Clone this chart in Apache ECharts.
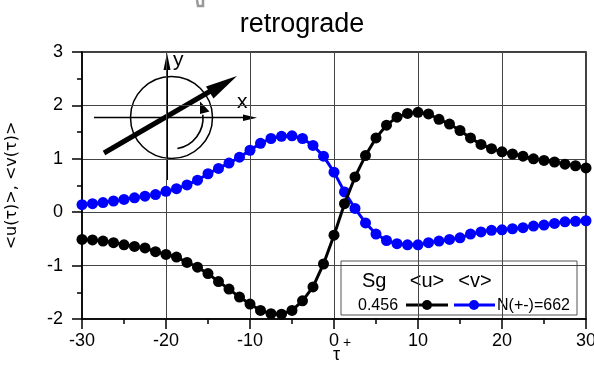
<!DOCTYPE html>
<html>
<head>
<meta charset="utf-8">
<script src="https://cdn.jsdelivr.net/npm/echarts@6/dist/echarts.min.js"></script>
<style>
  html, body { margin: 0; padding: 0; background: #fff; }
  #chart { width: 594px; height: 370px; }
</style>
</head>
<body>
<div id="chart"></div>
<script>
var FONT = "'Liberation Sans', Arial, sans-serif";

// lag tau
var tau = [-30, -28.75, -27.5, -26.25, -25, -23.75, -22.5, -21.25, -20, -18.75,
  -17.5, -16.25, -15, -13.75, -12.5, -11.25, -10, -8.75, -7.5, -6.25,
  -5, -3.75, -2.5, -1.25, 0, 1.25, 2.5, 3.75, 5, 6.25,
  7.5, 8.75, 10, 11.25, 12.5, 13.75, 15, 16.25, 17.5, 18.75,
  20, 21.25, 22.5, 23.75, 25, 26.25, 27.5, 28.75, 30];

// <u(tau)>
var uMean = [-0.51, -0.52, -0.54, -0.57, -0.61, -0.64, -0.67, -0.74, -0.79, -0.84,
  -0.94, -1.03, -1.15, -1.30, -1.44, -1.59, -1.72, -1.84, -1.90, -1.91,
  -1.84, -1.66, -1.40, -0.97, -0.43, 0.16, 0.66, 1.06, 1.39, 1.63,
  1.78, 1.85, 1.87, 1.84, 1.74, 1.65, 1.53, 1.39, 1.27, 1.19,
  1.13, 1.09, 1.05, 1.00, 0.97, 0.94, 0.90, 0.87, 0.83];

// <v(tau)>
var vMean = [0.14, 0.16, 0.18, 0.21, 0.24, 0.27, 0.30, 0.33, 0.39, 0.44,
  0.51, 0.60, 0.72, 0.82, 0.92, 1.03, 1.16, 1.29, 1.38, 1.42,
  1.43, 1.38, 1.25, 1.05, 0.75, 0.38, 0.07, -0.20, -0.41, -0.53,
  -0.59, -0.61, -0.61, -0.57, -0.54, -0.51, -0.48, -0.41, -0.37, -0.34,
  -0.33, -0.31, -0.29, -0.26, -0.24, -0.21, -0.18, -0.17, -0.16];

var xTicks = [-30, 30, 10];   // min, max, step
var yTicks = [-2, 3, 1];

function pairs(xs, ys) {
  var out = [];
  for (var i = 0; i < xs.length; i++) out.push([xs[i], ys[i]]);
  return out;
}

var option = {
  animation: false,
  backgroundColor: "#fff",
  textStyle: { fontFamily: FONT },
  title: {
    text: "retrograde",
    left: 297, top: 6, textAlign: "center",
    textStyle: { fontFamily: FONT, fontSize: 27, fontWeight: "normal", color: "#000" }
  },
  grid: {
    left: 82, right: 8, top: 52, bottom: 51,
    containLabel: false, outerBoundsMode: "none",
    show: true, borderColor: "#000", borderWidth: 1.5
  },
  xAxis: {
    type: "value",
    min: xTicks[0], max: xTicks[1], interval: xTicks[2],
    axisLine: { show: true, onZero: false, lineStyle: { color: "#000", width: 1.5 } },
    axisTick: { show: true, inside: false, length: 10, lineStyle: { color: "#000", width: 1.5 } },
    minorTick: { show: true, splitNumber: 2, length: 5, lineStyle: { color: "#000", width: 1.5 } },
    splitLine: { show: true, lineStyle: { color: "#444", width: 1 } },
    axisLabel: { color: "#000", fontSize: 18, fontFamily: FONT, margin: 13, showMinLabel: true, showMaxLabel: true }
  },
  yAxis: {
    type: "value",
    min: yTicks[0], max: yTicks[1], interval: yTicks[2],
    name: "<u(\u03c4)>, <v(\u03c4)>",
    nameLocation: "middle", nameGap: 62, nameRotate: 90,
    nameTextStyle: { fontFamily: "'DejaVu Sans', sans-serif", fontSize: 16, color: "#000" },
    axisLine: { show: true, onZero: false, lineStyle: { color: "#000", width: 1.5 } },
    axisTick: { show: true, inside: false, length: 10, lineStyle: { color: "#000", width: 1.5 } },
    minorTick: { show: true, splitNumber: 2, length: 5, lineStyle: { color: "#000", width: 1.5 } },
    splitLine: { show: true, lineStyle: { color: "#444", width: 1 } },
    axisLabel: { color: "#000", fontSize: 18, fontFamily: FONT, margin: 19 }
  },
  series: [
    {
      name: "<u>",
      type: "line",
      data: pairs(tau, uMean),
      symbol: "circle", symbolSize: 11, showSymbol: true,
      itemStyle: { color: "#000" },
      lineStyle: { color: "#000", width: 3 },
      z: 3
    },
    {
      name: "<v>",
      type: "line",
      data: pairs(tau, vMean),
      symbol: "circle", symbolSize: 11, showSymbol: true,
      itemStyle: { color: "#0000ff" },
      lineStyle: { color: "#0000ff", width: 3 },
      z: 2
    }
  ],
  graphic: [
    // stray grey mark at top
    { type: "polyline", shape: { points: [[197, 0], [198, 6], [203, 6], [203, 0]] },
      style: { stroke: "#999", lineWidth: 2.5, fill: null } },
    // x axis title: tau with plus
    { type: "text", x: 333, y: 346, style: { text: "\u03c4", fontSize: 18, fontFamily: FONT, fill: "#000" } },
    { type: "text", x: 343, y: 336, style: { text: "+", fontSize: 14, fontFamily: FONT, fill: "#000" } },
    // legend box
    {
      type: "group", z: 100,
      children: [
        { type: "rect", shape: { x: 341, y: 261, width: 236, height: 54 },
          style: { fill: "#fff", stroke: "#555", lineWidth: 1 } },
        { type: "text", x: 362, y: 281, style: { text: "Sg", fontSize: 20, fontFamily: FONT, fill: "#000", verticalAlign: "middle" } },
        { type: "text", x: 427, y: 281, style: { text: "<u>", fontSize: 20, fontFamily: FONT, fill: "#000", align: "center", verticalAlign: "middle" } },
        { type: "text", x: 475, y: 281, style: { text: "<v>", fontSize: 20, fontFamily: FONT, fill: "#000", align: "center", verticalAlign: "middle" } },
        { type: "text", x: 358, y: 306, style: { text: "0.456", fontSize: 16, fontFamily: FONT, fill: "#000", verticalAlign: "middle" } },
        { type: "line", shape: { x1: 406, y1: 305, x2: 448, y2: 305 }, style: { stroke: "#000", lineWidth: 3 } },
        { type: "circle", shape: { cx: 427, cy: 305, r: 5 }, style: { fill: "#000" } },
        { type: "line", shape: { x1: 454, y1: 305, x2: 495, y2: 305 }, style: { stroke: "#0000ff", lineWidth: 3 } },
        { type: "circle", shape: { cx: 474, cy: 305, r: 5 }, style: { fill: "#0000ff" } },
        { type: "text", x: 497, y: 306, style: { text: "N(+-)=662", fontSize: 16, fontFamily: FONT, fill: "#000", verticalAlign: "middle" } }
      ]
    },
    // inset sketch
    {
      type: "group", z: 90,
      children: [
        { type: "circle", shape: { cx: 171.5, cy: 117.5, r: 41 }, style: { fill: null, stroke: "#000", lineWidth: 1.5 } },
        { type: "line", shape: { x1: 167, y1: 180, x2: 167, y2: 66 }, style: { stroke: "#000", lineWidth: 2 } },
        { type: "polygon", shape: { points: [[167, 53], [163.5, 70], [170.5, 70]] }, style: { fill: "#000" } },
        { type: "text", x: 173, y: 50, style: { text: "y", fontSize: 21, fontFamily: FONT, fill: "#000" } },
        { type: "line", shape: { x1: 94, y1: 117.5, x2: 246, y2: 117.5 }, style: { stroke: "#000", lineWidth: 1.3 } },
        { type: "polygon", shape: { points: [[257, 117.7], [243, 114.5], [243, 121]] }, style: { fill: "#000" } },
        { type: "text", x: 237, y: 92, style: { text: "x", fontSize: 21, fontFamily: FONT, fill: "#000" } },
        { type: "line", shape: { x1: 104, y1: 153, x2: 214, y2: 89 }, style: { stroke: "#000", lineWidth: 5 } },
        { type: "polygon", shape: { points: [[237, 76], [206, 86.5], [213.5, 98.5]] }, style: { fill: "#000" } },
        { type: "arc", shape: { cx: 172, cy: 118, r: 31, startAngle: 80 * Math.PI / 180, endAngle: -6 * Math.PI / 180, clockwise: false },
          style: { stroke: "#000", lineWidth: 1.6, fill: null } },
        { type: "polygon", shape: { points: [[200, 101.5], [200, 114], [209.5, 111.5]] }, style: { fill: "#000" } }
      ]
    }
  ]
};

var chart = echarts.init(document.getElementById("chart"), null, { renderer: "canvas" });
chart.setOption(option);
window.addEventListener("resize", function () { chart.resize(); });
</script>
</body>
</html>
